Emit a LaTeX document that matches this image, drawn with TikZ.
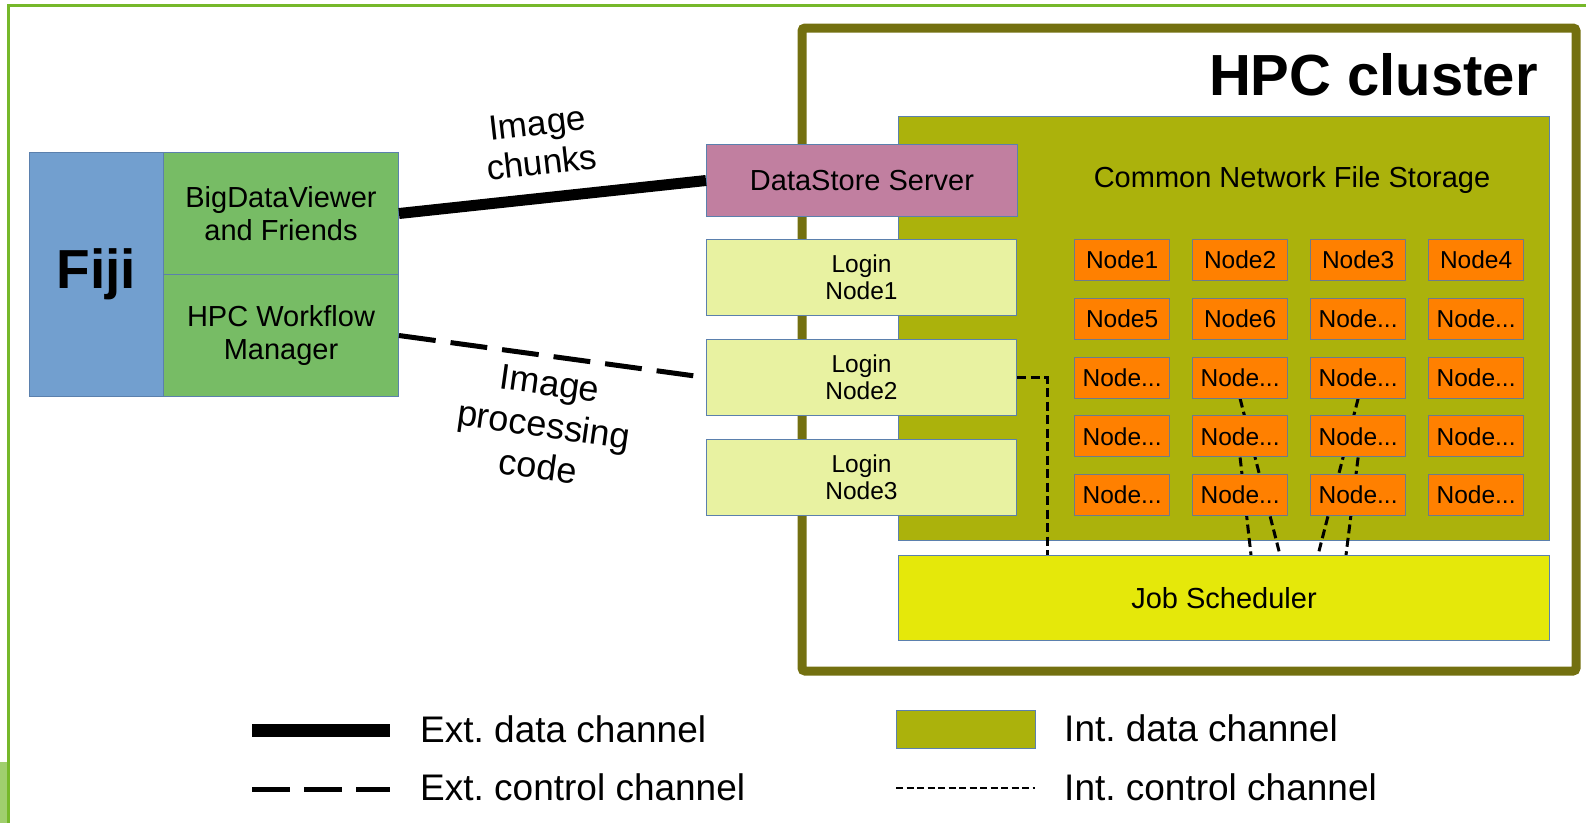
\documentclass[tikz,border=0pt]{standalone}
\usepackage{fontspec}
\setmainfont{Liberation Sans}
\usetikzlibrary{calc}
\pgfdeclarelayer{back}
\pgfdeclarelayer{mid}
\pgfsetlayers{back,mid,main}
\definecolor{frameG}{HTML}{76B82A}
\definecolor{patchG}{HTML}{A0CF6E}
\definecolor{fijiB}{HTML}{729FCF}
\definecolor{modG}{HTML}{77BC65}
\definecolor{edgeB}{HTML}{5B80AD}
\definecolor{hpcO}{HTML}{737010}
\definecolor{storO}{HTML}{ABB20C}
\definecolor{dsP}{HTML}{C17FA0}
\definecolor{loginY}{HTML}{E8F2A1}
\definecolor{nodeO}{HTML}{FF8000}
\definecolor{nodeE}{HTML}{6E7B8B}
\definecolor{schedY}{HTML}{E5E80A}
\newcommand\myfs[2]{\fontsize{#1}{#2}\selectfont}
\frenchspacing
\begin{document}
\begin{tikzpicture}[x=1pt,y=-1pt,
  box/.style={draw=edgeB,line width=1pt,anchor=north west,inner sep=0pt,align=center},
  gridnode/.style={draw=nodeE,line width=1.2pt,fill=nodeO,anchor=north west,inner sep=0pt,
     minimum width=95,minimum height=41,font=\myfs{24.5}{27}},
  loginbox/.style={box,fill=loginY,minimum width=310,minimum height=76,font=\myfs{24.5}{27}},
  extdata/.style={line width=11pt},
  extctrl/.style={line width=5pt,dash pattern=on 37pt off 15pt},
  intctrl/.style={line width=3pt,dash pattern=on 9pt off 4.5pt},
  legtext/.style={anchor=base west,inner sep=0pt,font=\myfs{37}{40}},
  tilted/.style={align=center,inner sep=0pt}]
\useasboundingbox (0,0) rectangle (1586,823);

% outer frame
\fill[patchG] (0,762) rectangle (7,823);
\draw[frameG,line width=3pt] (8,823) -- (8,5) -- (1586,5);

% Fiji block
\node[box,fill=fijiB,minimum width=134,minimum height=244,font=\bfseries\myfs{55}{60}] (fiji) at (29,152) {Fiji};
\node[box,fill=modG,minimum width=235,minimum height=122,font=\myfs{29}{33}] (bdv) at (163,152) {BigDataViewer\\and Friends};
\node[box,fill=modG,minimum width=235,minimum height=122,font=\myfs{29}{33}] (wfm) at (163,274) {HPC Workflow\\Manager};

% HPC cluster frame and storage
\begin{pgfonlayer}{back}
\draw[hpcO,line width=9pt,rounded corners=3pt] (802,28) rectangle (1576,671);
\node[box,fill=storO,minimum width=651,minimum height=424] (stor) at (898,116) {};
\end{pgfonlayer}
\node[anchor=base east,inner sep=0pt,font=\bfseries\myfs{58}{62}] (hpctitle) at (1538,95) {HPC cluster};
\node[font=\myfs{29}{33},inner sep=0pt] (storlbl) at (1292,180) {Common Network File Storage};

% compute nodes
\foreach \r in {1,...,5}{
  \foreach \c in {1,...,4}{
    \pgfmathtruncatemacro\k{(\r-1)*4+\c}
    \ifnum\k<7 \edef\nodetxt{Node\k}\else\def\nodetxt{Node...}\fi
    \node[gridnode] (n\r\c) at ({1074+118*(\c-1)},{239+58.75*(\r-1)}) {\nodetxt};
  }
}

% scheduler
\node[box,fill=schedY,minimum width=651,minimum height=85,font=\myfs{29}{33}] (sched) at (898,555) {Job Scheduler};

% DataStore and login nodes
\node[box,fill=dsP,minimum width=311,minimum height=72,font=\myfs{29}{33}] (ds) at (706,144) {DataStore Server};
\node[loginbox] (login1) at (706,239) {Login\\Node1};
\node[loginbox] (login2) at (706,339) {Login\\Node2};
\node[loginbox] (login3) at (706,439) {Login\\Node3};

% internal control channels
\coordinate (lk) at (1047,555);
\coordinate (e1) at (1280,555);
\coordinate (e2) at (1251,555);
\coordinate (e3) at (1318,555);
\coordinate (e4) at (1346,555);
\begin{pgfonlayer}{mid}
\draw[intctrl] (login2.east) -| (lk);
\draw[intctrl] (n32.south) -- (e1);
\draw[intctrl] (n42.south) -- (e2);
\draw[intctrl] (n33.south) -- (e3);
\draw[intctrl] (n43.south) -- (e4);
\end{pgfonlayer}

% external channels
\draw[extdata] (bdv.east) -- (ds.west);
\draw[extctrl] (wfm.east) -- (login2.west);
\node[tilted,rotate=6.5,font=\myfs{35}{40}] (lblchunks) at (539.5,143) {Image\\chunks};
\node[tilted,rotate=-8,font=\myfs{36}{42}] (lblcode) at (544,425) {Image\\processing\\code};

% legend
\coordinate (la1) at (252,730);
\coordinate (la2) at (390,730);
\coordinate (lb1) at (252,789);
\coordinate (lb2) at (390,789);
\coordinate (lc1) at (896,788);
\coordinate (lc2) at (1035,788);
\draw[line width=13pt] (la1) -- (la2);
\draw[line width=5pt,dash pattern=on 38pt off 14pt] (lb1) -- (lb2);
\node[box,fill=storO,minimum width=139,minimum height=38] (legrect) at (896,710) {};
\draw[line width=1.8pt,dash pattern=on 7pt off 3.5pt] (lc1) -- (lc2);
\node[legtext] (lt1) at (420,742) {Ext. data channel};
\node[legtext] (lt2) at (420,800) {Ext. control channel};
\node[legtext] (lt3) at (1064,741) {Int. data channel};
\node[legtext] (lt4) at (1064,800) {Int. control channel};
\end{tikzpicture}
\end{document}
